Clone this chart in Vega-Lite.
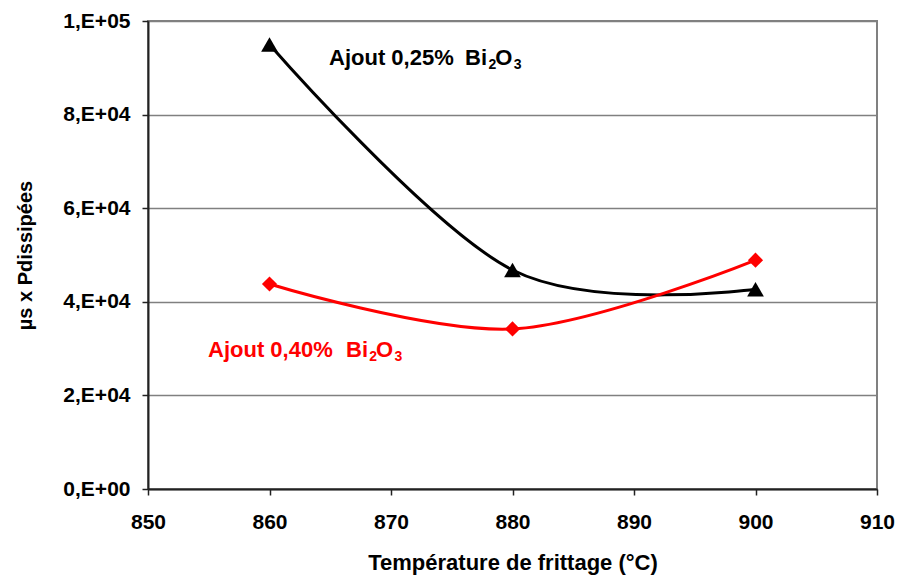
{
  "$schema": "https://vega.github.io/schema/vega-lite/v6.json",
  "width": 729,
  "height": 468,
  "autosize": "none",
  "padding": {"left": 148, "top": 21, "right": 21, "bottom": 89},
  "background": "white",
  "config": {
    "font": "Liberation Sans",
    "view": {"stroke": "#808080", "strokeWidth": 2},
    "axis": {"labelFont": "Liberation Sans", "titleFont": "Liberation Sans", "labelFontWeight": "bold", "titleFontWeight": "bold", "labelColor": "black", "titleColor": "black", "domainColor": "#222222", "domainWidth": 2, "tickColor": "#222222", "tickWidth": 1.5, "tickSize": 6, "labelFlush": false}
  },
  "datasets": {
    "series": [
      {"temp": 860, "value": 95000, "serie": "0,25%"},
      {"temp": 880, "value": 46800, "serie": "0,25%"},
      {"temp": 900, "value": 42700, "serie": "0,25%"},
      {"temp": 860, "value": 43800, "serie": "0,40%"},
      {"temp": 880, "value": 34200, "serie": "0,40%"},
      {"temp": 900, "value": 48900, "serie": "0,40%"}
    ],
    "labels": [
      {"temp": 864.9, "value": 92100, "text": "Ajout 0,25%", "part": "main", "serie": "0,25%"},
      {"temp": 876.1, "value": 92100, "text": "Bi", "part": "main", "serie": "0,25%"},
      {"temp": 878.02, "value": 90600, "text": "2", "part": "sub", "serie": "0,25%"},
      {"temp": 878.58, "value": 92100, "text": "O", "part": "main", "serie": "0,25%"},
      {"temp": 880.1, "value": 90600, "text": "3", "part": "sub", "serie": "0,25%"},
      {"temp": 854.94, "value": 29700, "text": "Ajout 0,40%", "part": "main", "serie": "0,40%"},
      {"temp": 866.3, "value": 29700, "text": "Bi", "part": "main", "serie": "0,40%"},
      {"temp": 868.2, "value": 28200, "text": "2", "part": "sub", "serie": "0,40%"},
      {"temp": 868.76, "value": 29700, "text": "O", "part": "main", "serie": "0,40%"},
      {"temp": 870.28, "value": 28200, "text": "3", "part": "sub", "serie": "0,40%"}
    ]
  },
  "encoding": {
    "x": {"field": "temp", "type": "quantitative", "scale": {"domain": [850, 910], "nice": false, "zero": false},
      "axis": {"values": [850, 860, 870, 880, 890, 900, 910], "grid": false, "labelFontSize": 21, "labelPadding": 16, "title": "Température de frittage (°C)", "titleFontSize": 22, "titlePadding": 20}},
    "y": {"field": "value", "type": "quantitative", "scale": {"domain": [0, 100000], "nice": false},
      "axis": {"values": [0, 20000, 40000, 60000, 80000, 100000], "grid": true, "gridColor": "#808080", "gridWidth": 1.5, "labelFontSize": 21, "labelPadding": 12,
        "labelExpr": "datum.value === 0 ? '0,E+00' : datum.value === 100000 ? '1,E+05' : (datum.value / 10000) + ',E+04'",
        "title": "µs x Pdissipées", "titleFontSize": 20, "titlePadding": 27}},
    "color": {"field": "serie", "type": "nominal", "scale": {"domain": ["0,25%", "0,40%"], "range": ["black", "#ff0000"]}, "legend": null}
  },
  "layer": [
    {"data": {"name": "series"}, "mark": {"type": "line", "interpolate": "cardinal", "strokeWidth": 3}},
    {"data": {"name": "series"}, "transform": [{"filter": "datum.serie === '0,25%'"}], "mark": {"type": "point", "shape": "triangle-up", "filled": true, "size": 280, "opacity": 1}},
    {"data": {"name": "series"}, "transform": [{"filter": "datum.serie === '0,40%'"}], "mark": {"type": "point", "shape": "diamond", "filled": true, "size": 230, "opacity": 1}},
    {"data": {"name": "labels"}, "transform": [{"filter": "datum.part === 'main'"}], "mark": {"type": "text", "align": "left", "baseline": "middle", "fontSize": 22, "fontWeight": "bold", "font": "Liberation Sans"}, "encoding": {"text": {"field": "text"}}},
    {"data": {"name": "labels"}, "transform": [{"filter": "datum.part === 'sub'"}], "mark": {"type": "text", "align": "left", "baseline": "middle", "fontSize": 14, "fontWeight": "bold", "font": "Liberation Sans"}, "encoding": {"text": {"field": "text"}}}
  ]
}
